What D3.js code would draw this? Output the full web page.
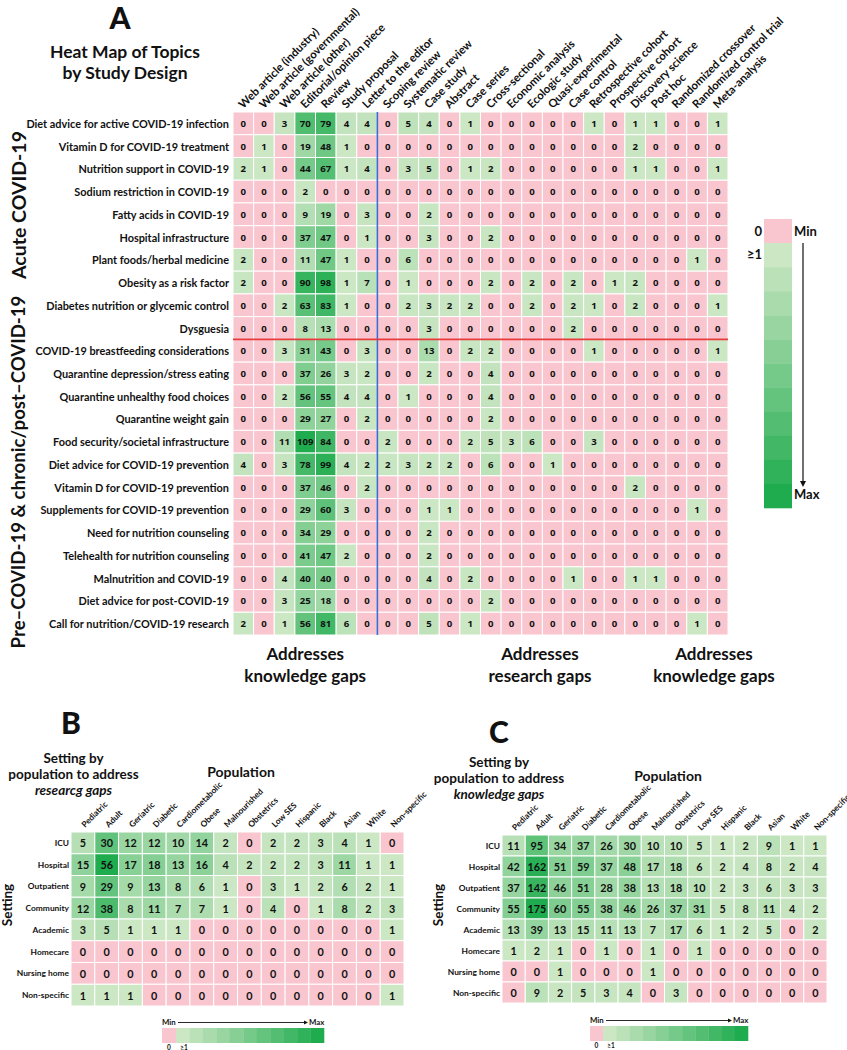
<!DOCTYPE html>
<html><head><meta charset="utf-8">
<script src="https://cdn.jsdelivr.net/npm/d3@7"></script>
<style>
body{margin:0;background:#fff}
svg{display:block}
text{font-family:Lato,"Open Sans",sans-serif;fill:#111;font-weight:700}
</style>
</head><body>
<svg id="chart" width="847" height="1050"></svg>
<script>
// ---------- DATA ----------
const designs = ["Web article (industry)","Web article (governmental)","Web article (other)","Editorial/opinion piece","Review","Study proposal","Letter to the editor","Scoping review","Systematic review","Case study","Abstract","Case series","Cross-sectional","Economic analysis","Ecologic study","Quasi-experimental","Case control","Retrospective cohort","Prospective cohort","Discovery science","Post hoc","Randomized crossover","Randomized control trial","Meta-analysis"];
const topics = ["Diet advice for active COVID-19 infection","Vitamin D for COVID-19 treatment","Nutrition support in COVID-19","Sodium restriction in COVID-19","Fatty acids in COVID-19","Hospital infrastructure","Plant foods/herbal medicine","Obesity as a risk factor","Diabetes nutrition or glycemic control","Dysguesia","COVID-19 breastfeeding considerations","Quarantine depression/stress eating","Quarantine unhealthy food choices","Quarantine weight gain","Food security/societal infrastructure","Diet advice for COVID-19 prevention","Vitamin D for COVID-19 prevention","Supplements for COVID-19 prevention","Need for nutrition counseling","Telehealth for nutrition counseling","Malnutrition and COVID-19","Diet advice for post-COVID-19","Call for nutrition/COVID-19 research"];
const topicCounts = [
 [0,0,3,70,79,4,4,0,5,4,0,1,0,0,0,0,0,1,0,1,1,0,0,1],
 [0,1,0,19,48,1,0,0,0,0,0,0,0,0,0,0,0,0,0,2,0,0,0,0],
 [2,1,0,44,67,1,4,0,3,5,0,1,2,0,0,0,0,0,0,1,1,0,0,1],
 [0,0,0,2,0,0,0,0,0,0,0,0,0,0,0,0,0,0,0,0,0,0,0,0],
 [0,0,0,9,19,0,3,0,0,2,0,0,0,0,0,0,0,0,0,0,0,0,0,0],
 [0,0,0,37,47,0,1,0,0,3,0,0,2,0,0,0,0,0,0,0,0,0,0,0],
 [2,0,0,11,47,1,0,0,6,0,0,0,0,0,0,0,0,0,0,0,0,0,1,0],
 [2,0,0,90,98,1,7,0,1,0,0,0,2,0,2,0,2,0,1,2,0,0,0,0],
 [0,0,2,63,83,1,0,0,2,3,2,2,0,0,2,0,2,1,0,2,0,0,0,1],
 [0,0,0,8,13,0,0,0,0,3,0,0,0,0,0,0,2,0,0,0,0,0,0,0],
 [0,0,3,31,43,0,3,0,0,13,0,2,2,0,0,0,0,1,0,0,0,0,0,1],
 [0,0,0,37,26,3,2,0,0,2,0,0,4,0,0,0,0,0,0,0,0,0,0,0],
 [0,0,2,56,55,4,4,0,1,0,0,0,4,0,0,0,0,0,0,0,0,0,0,0],
 [0,0,0,29,27,0,2,0,0,0,0,0,2,0,0,0,0,0,0,0,0,0,0,0],
 [0,0,11,109,84,0,0,2,0,0,0,2,5,3,6,0,0,3,0,0,0,0,0,0],
 [4,0,3,78,99,4,2,2,3,2,2,0,6,0,0,1,0,0,0,0,0,0,0,0],
 [0,0,0,37,46,0,2,0,0,0,0,0,0,0,0,0,0,0,0,2,0,0,0,0],
 [0,0,0,29,60,3,0,0,0,1,1,0,0,0,0,0,0,0,0,0,0,0,1,0],
 [0,0,0,34,29,0,0,0,0,2,0,0,0,0,0,0,0,0,0,0,0,0,0,0],
 [0,0,0,41,47,2,0,0,0,2,0,0,0,0,0,0,0,0,0,0,0,0,0,0],
 [0,0,4,40,40,0,0,0,0,4,0,2,0,0,0,0,1,0,0,1,1,0,0,0],
 [0,0,3,25,18,0,0,0,0,0,0,0,2,0,0,0,0,0,0,0,0,0,0,0],
 [2,0,1,56,81,6,0,0,0,5,0,1,0,0,0,0,0,0,0,0,0,0,1,0]
];
const populations = ["Pediatric","Adult","Geriatric","Diabetic","Cardiometabolic","Obese","Malnourished","Obstetrics","Low SES","Hispanic","Black","Asian","White","Non-specific"];
const settings = ["ICU","Hospital","Outpatient","Community","Academic","Homecare","Nursing home","Non-specific"];
const researchGapCounts = [
 [5,30,12,12,10,14,2,0,2,2,3,4,1,0],
 [15,56,17,18,13,16,4,2,2,2,3,11,1,1],
 [9,29,9,13,8,6,1,0,3,1,2,6,2,1],
 [12,38,8,11,7,7,1,0,4,0,1,8,2,3],
 [3,5,1,1,1,0,0,0,0,0,0,0,0,1],
 [0,0,0,0,0,0,0,0,0,0,0,0,0,0],
 [0,0,0,0,0,0,0,0,0,0,0,0,0,0],
 [1,1,1,0,0,0,0,0,0,0,0,0,0,1]
];
const knowledgeGapCounts = [
 [11,95,34,37,26,30,10,10,5,1,2,9,1,1],
 [42,162,51,59,37,48,17,18,6,2,4,8,2,4],
 [37,142,46,51,28,38,13,18,10,2,3,6,3,3],
 [55,175,60,55,38,46,26,37,31,5,8,11,4,2],
 [13,39,13,15,11,13,7,17,6,1,2,5,0,2],
 [1,2,1,0,1,0,1,0,1,0,0,0,0,0],
 [0,0,1,0,0,0,1,0,0,0,0,0,0,0],
 [0,9,2,5,3,4,0,3,0,0,0,0,0,0]
];
const acuteCount = 10;          // first 10 topics = acute COVID-19
const researchStart = 7;        // design index where research-gap designs start

// ---------- STYLE ----------
const PINK = "#f9c5cf", LIGHT = "#cce7c4", DARK = "#1fac4e";
const svg = d3.select("#chart");

function makeColor(max){
  const interp = d3.interpolateRgb(LIGHT, DARK);
  const s = d3.scalePow().exponent(0.72).domain([1, max]).range([0, 1]).clamp(true);
  return v => v <= 0 ? PINK : interp(s(v));
}

function heatmap(g, rows, cols, vals, box, o){
  const x = d3.scaleBand().domain(cols).range([box.x0, box.x1]);
  const y = d3.scaleBand().domain(rows).range([box.y0, box.y1]);
  const max = d3.max(vals.flat());
  const color = makeColor(max);
  const cells = [];
  vals.forEach((r, i) => r.forEach((v, j) => cells.push({row: rows[i], col: cols[j], v})));
  g.selectAll("rect.cell").data(cells).join("rect").attr("class","cell")
    .attr("x", d => x(d.col)).attr("y", d => y(d.row))
    .attr("width", x.bandwidth()).attr("height", y.bandwidth())
    .attr("fill", d => color(d.v)).attr("stroke", "#fff").attr("stroke-width", 1);
  g.selectAll("text.val").data(cells).join("text").attr("class","val")
    .attr("x", d => x(d.col) + x.bandwidth()/2).attr("y", d => y(d.row) + y.bandwidth()/2)
    .attr("text-anchor","middle").attr("dominant-baseline","central")
    .style("font-family", o.valFont).style("font-size", o.valSize + "px").style("font-weight", 700)
    .text(d => d.v);
  g.selectAll("text.rowlab").data(rows).join("text").attr("class","rowlab")
    .attr("x", box.x0 - o.rowGap).attr("y", d => y(d) + y.bandwidth()/2)
    .attr("text-anchor","end").attr("dominant-baseline","central")
    .style("font-size", o.rowSize + "px").text(d => d);
  g.selectAll("text.collab").data(cols).join("text").attr("class","collab")
    .attr("transform", d => `translate(${x(d) + x.bandwidth()/2 + o.colDx},${box.y0 - o.colDy}) rotate(-45)`)
    .style("font-size", o.colSize + "px").text(d => d);
  return {x, y, color};
}

function stepLegend(g, n, dir, r){
  const steps = d3.range(n).map(i => i/(n-1));
  const interp = d3.interpolateRgb(LIGHT, DARK);
  if (dir === "v") {
    const h = (r.y1 - r.y0)/n;
    g.selectAll("rect.st").data(steps).join("rect").attr("class","st")
      .attr("x", r.x0).attr("y", (d,i) => r.y0 + i*h).attr("width", r.x1 - r.x0).attr("height", h + 0.3)
      .attr("fill", d => interp(d));
  } else {
    const w = (r.x1 - r.x0)/n;
    g.selectAll("rect.st").data(steps).join("rect").attr("class","st")
      .attr("x", (d,i) => r.x0 + i*w).attr("y", r.y0).attr("width", w + 0.3).attr("height", r.y1 - r.y0)
      .attr("fill", d => interp(d));
  }
}

// ---------- PANEL A ----------
const gA = svg.append("g");
gA.append("text").attr("x",120).attr("y",29).attr("text-anchor","middle").style("font-size","30px").style("font-weight",900).text("A");
gA.append("text").attr("x",125).attr("y",58).attr("text-anchor","middle").style("font-size","17.5px").text("Heat Map of Topics");
gA.append("text").attr("x",125).attr("y",79).attr("text-anchor","middle").style("font-size","17.5px").text("by Study Design");

const A = heatmap(gA, topics, designs, topicCounts, {x0:233, x1:728, y0:112, y1:635},
  {valFont:"'Open Sans',sans-serif", valSize:9.6, rowSize:10.9, rowGap:4, colSize:11.3, colDx:0, colDy:3});

// separators
const sepX = A.x(designs[researchStart]);
gA.append("line").attr("x1",sepX).attr("x2",sepX).attr("y1",112).attr("y2",635).attr("stroke","#3b6fd6").attr("stroke-width",1.6);
const sepY = A.y(topics[acuteCount]);
gA.append("line").attr("x1",233).attr("x2",728).attr("y1",sepY).attr("y2",sepY).attr("stroke","#e8393b").attr("stroke-width",1.8);

// group labels
gA.append("text").attr("transform", `translate(18,205) rotate(-90)`)
  .attr("text-anchor","middle").attr("dominant-baseline","central").style("font-size","19.5px").text("Acute COVID-19");
gA.append("text").attr("transform", `translate(18,472) rotate(-90)`)
  .attr("text-anchor","middle").attr("dominant-baseline","central").style("font-size","18.6px").text("Pre–COVID-19 & chronic/post–COVID-19");

// bottom captions
const caps = [
  {cx: (A.x(designs[0]) + A.x(designs[researchStart]))/2, lines:["Addresses","knowledge gaps"]},
  {cx: 540, lines:["Addresses","research gaps"]},
  {cx: 714, lines:["Addresses","knowledge gaps"]}
];
caps.forEach(c => c.lines.forEach((t,i) => gA.append("text").attr("x",c.cx).attr("y",660 + i*22)
  .attr("text-anchor","middle").style("font-size","17px").text(t)));

// legend A
gA.append("rect").attr("x",764).attr("y",219).attr("width",28).attr("height",24).attr("fill",PINK);
stepLegend(gA.append("g"), 11, "v", {x0:764, x1:792, y0:243, y1:508});
gA.append("text").attr("x",762).attr("y",236).attr("text-anchor","end").style("font-size","13px").text("0");
gA.append("text").attr("x",762).attr("y",259).attr("text-anchor","end").style("font-size","13px").text("≥1");
gA.append("text").attr("x",794).attr("y",236).style("font-size","13px").text("Min");
gA.append("text").attr("x",794).attr("y",499).style("font-size","13px").text("Max");
gA.append("line").attr("x1",803).attr("x2",803).attr("y1",243).attr("y2",483).attr("stroke","#111").attr("stroke-width",1.2);
gA.append("path").attr("d","M800,481 L803,487 L806,481 Z").attr("fill","#111");

// ---------- PANELS B & C ----------
function panel(letter, lx, ly, title3, tcx, tBase, popCx, popBase, box, setX, vals, leg){
  const g = svg.append("g");
  g.append("text").attr("x",lx).attr("y",ly).attr("text-anchor","middle").style("font-size","30px").style("font-weight",900).text(letter);
  ["Setting by","population to address"].forEach((t,i) => g.append("text").attr("x",tcx).attr("y",tBase + i*16)
    .attr("text-anchor","middle").style("font-size","13.5px").text(t));
  g.append("text").attr("x",tcx).attr("y",tBase + 32).attr("text-anchor","middle").style("font-size","13.5px").style("font-style","italic").text(title3);
  g.append("text").attr("x",popCx).attr("y",popBase).attr("text-anchor","middle").style("font-size","14px").text("Population");
  g.append("text").attr("transform",`translate(${setX},905) rotate(-90)`).attr("text-anchor","middle").attr("dominant-baseline","central")
    .style("font-size","13.5px").text("Setting");
  heatmap(g, settings, populations, vals, box,
    {valFont:"Lato,sans-serif", valSize:10.8, rowSize:8.4, rowGap:2, colSize:8.3, colDx:2, colDy:4});
  g.append("rect").attr("x",leg.x0).attr("y",leg.y0).attr("width",leg.xp - leg.x0).attr("height",leg.y1 - leg.y0).attr("fill",PINK);
  stepLegend(g.append("g"), 11, "h", {x0:leg.xp, x1:leg.x1, y0:leg.y0, y1:leg.y1});
  g.append("text").attr("x",leg.x0).attr("y",leg.y0 - 3).style("font-size","7.8px").text("Min");
  g.append("text").attr("x",leg.x1 - 15).attr("y",leg.y0 - 3).style("font-size","7.8px").text("Max");
  g.append("line").attr("x1",leg.x0 + 16).attr("x2",leg.x1 - 19).attr("y1",leg.y0 - 5.5).attr("y2",leg.y0 - 5.5).attr("stroke","#111").attr("stroke-width",0.9);
  g.append("path").attr("d",`M${leg.x1-20},${leg.y0-7.5} L${leg.x1-16},${leg.y0-5.5} L${leg.x1-20},${leg.y0-3.5} Z`).attr("fill","#111");
  g.append("text").attr("x",(leg.x0 + leg.xp)/2).attr("y",leg.y1 + 7).attr("text-anchor","middle").style("font-size","6.5px").text("0");
  g.append("text").attr("x",leg.xp + 8).attr("y",leg.y1 + 7).attr("text-anchor","middle").style("font-size","6.5px").text("≥1");
}

panel("B", 71, 734, "researcg gaps", 73.5, 763, 241, 777, {x0:71, x1:404, y0:832, y1:1006}, 7, researchGapCounts,
  {x0:162, xp:176, x1:324, y0:1028, y1:1043});
panel("C", 499, 743, "knowledge gaps", 499, 767, 668, 781, {x0:502, x1:827, y0:835, y1:1003}, 438, knowledgeGapCounts,
  {x0:590, xp:603, x1:748, y0:1026, y1:1041});
</script>
</body></html>
